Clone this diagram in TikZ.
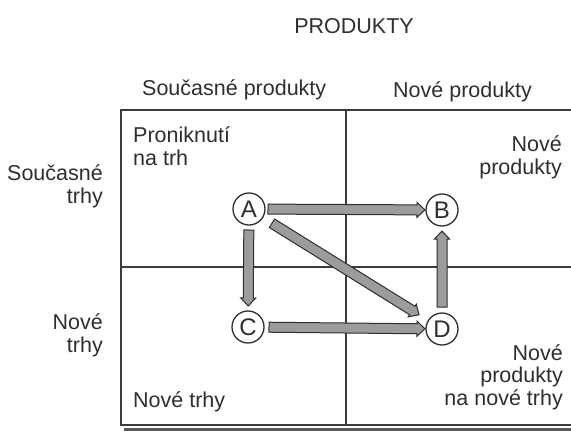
\documentclass[tikz,border=0pt]{standalone}
\usepackage{fontspec}
\setmainfont{Liberation Sans}
\usetikzlibrary{calc}
\definecolor{ink}{HTML}{2E2E2E}
\definecolor{rule}{HTML}{3C3C3C}
\definecolor{shaft}{HTML}{9C9C9C}
\begin{document}
\begin{tikzpicture}[x=1pt, y=-1pt,
  lbl/.style={inner sep=0pt, text=ink, font=\fontsize{21.5}{22.5}\selectfont},
  grid/.style={draw=rule, line width=1.5pt},
  frame/.style={draw=rule, line width=2pt},
  stage/.style={circle, draw=ink, line width=1.3pt, fill=white, minimum size=32pt,
    inner sep=0pt, text=ink, font=\fontsize{24}{24}\selectfont},
  % broad outlined arrow between two node centres;
  % #1 = offset of the tail from the start centre, #2 = offset of the tip from the end centre
  fat/.style 2 args={to path={
    let \p1=(\tikztostart), \p2=(\tikztotarget),
        \n1={atan2(\y2-\y1,\x2-\x1)},
        \n2={veclen(\x2-\x1,\y2-\y1)-(#2)}
    in {[shift={(\p1)}, rotate=\n1]
      (#1,-5) -- (\n2-8,-5) -- (\n2-8,-7.5) -- (\n2,0) -- (\n2-8,7.5)
      -- (\n2-8,5) -- (#1,5) -- cycle}
  }},
  move/.style={draw=ink, line width=1pt, fill=shaft, line join=miter},
]
\useasboundingbox (0,0) rectangle (571,432);

% matrix frame and its dividing lines
\draw[rule!85, line width=3pt] (124,429) -- (571,429);
\draw[frame] (571,110) -- (121,110) -- (121,425) -- (571,425);
\draw[grid] (346,110) -- (346,425);
\draw[grid] (121,267) -- (571,267);

% headings (multi-line nodes are placed by the baseline of their last line)
\node[lbl, anchor=base] (title) at (354,33) {PRODUKTY};
\node[lbl, anchor=base west] (cp) at (142,95) {Současné produkty};
\node[lbl, anchor=base west] (np) at (393,97) {Nové produkty};
\node[lbl, anchor=base east, align=right] (ct) at (103,203) {Současné\\trhy};
\node[lbl, anchor=base east, align=right] (nt) at (103,352) {Nové\\trhy};

% quadrant captions
\node[lbl, anchor=base west, align=left] (pen) at (133,165) {Proniknutí\\na trh};
\node[lbl, anchor=base east, align=right] (prod) at (562,174) {Nové\\produkty};
\node[lbl, anchor=base west] (mkt) at (133,407) {Nové trhy};
\node[lbl, anchor=base east, align=right] (div) at (563,405) {Nové\\produkty\\na nové trhy};

% strategy points
\node[stage] (A) at (249,209) {A};
\node[stage] (B) at (442,210) {B};
\node[stage] (C) at (248,327) {C};
\node[stage] (D) at (442,329) {D};

% growth paths
\draw[move] (A) to[fat={19}{17}] (B);
\draw[move] (A) to[fat={21}{21}] (C);
\draw[move] (A) to[fat={27}{27}] (D);
\draw[move] (C) to[fat={21}{17}] (D);
\draw[move] (D) to[fat={22}{21}] (B);
\end{tikzpicture}
\end{document}
